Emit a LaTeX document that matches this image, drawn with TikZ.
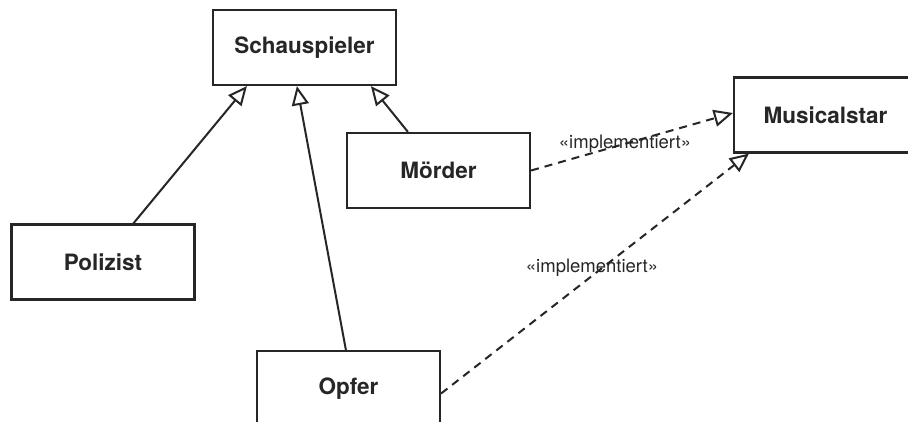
\documentclass[tikz,border=0pt]{standalone}
\usepackage{fontspec}
\setmainfont{TeX Gyre Heros}
\usetikzlibrary{arrows.meta,calc}
\definecolor{ink}{HTML}{262626}
\tikzset{
  cls/.style={draw=ink, line width=2.2pt, fill=white, minimum width=183pt, minimum height=75pt, inner sep=0pt, font=\fontsize{22.5}{27}\selectfont\bfseries, text=ink},
  gen/.style={draw=ink, line width=2pt, -{Triangle[open, length=19pt, width=17pt, line width=2pt]}},
  impl/.style={draw=ink, line width=2pt, dash pattern=on 8pt off 6pt, -{Triangle[open, length=19pt, width=17pt, line width=2pt]}},
  lbl/.style={font=\fontsize{18.5}{22}\selectfont, text=ink, inner sep=1pt}
}
\begin{document}
\begin{tikzpicture}[x=1pt,y=-1pt]
\clip (0,0) rectangle (908,422);
\fill[white] (0,0) rectangle (908,422);
\node[cls] (sch) at (304.5,47.5) {Schauspieler};
\node[cls] (mor) at (438.5,170.5) {Mörder};
\node[cls] (pol) at (103,262) {Polizist};
\node[cls] (opf) at (348.5,388.5) {Opfer};
\node[cls] (ms) at (825.5,115) {Musicalstar};
\draw[gen] ($(pol.north west)+(123,0)$) -- ($(sch.south west)+(35,0)$);
\draw[gen] ($(opf.north west)+(90,0)$) -- ($(sch.south west)+(85,0)$);
\draw[gen] ($(mor.north west)+(62,0)$) -- ($(sch.south west)+(159,0)$);
\draw[impl] (mor.east) -- ($(ms.west)+(0,-2)$);
\draw[impl] ($(opf.east)+(0,5)$) -- ($(ms.south west)+(16,0)$);
\node[lbl] (l1) at (625,144) {«implementiert»};
\node[lbl] (l2) at (592,268) {«implementiert»};
\end{tikzpicture}
\end{document}
